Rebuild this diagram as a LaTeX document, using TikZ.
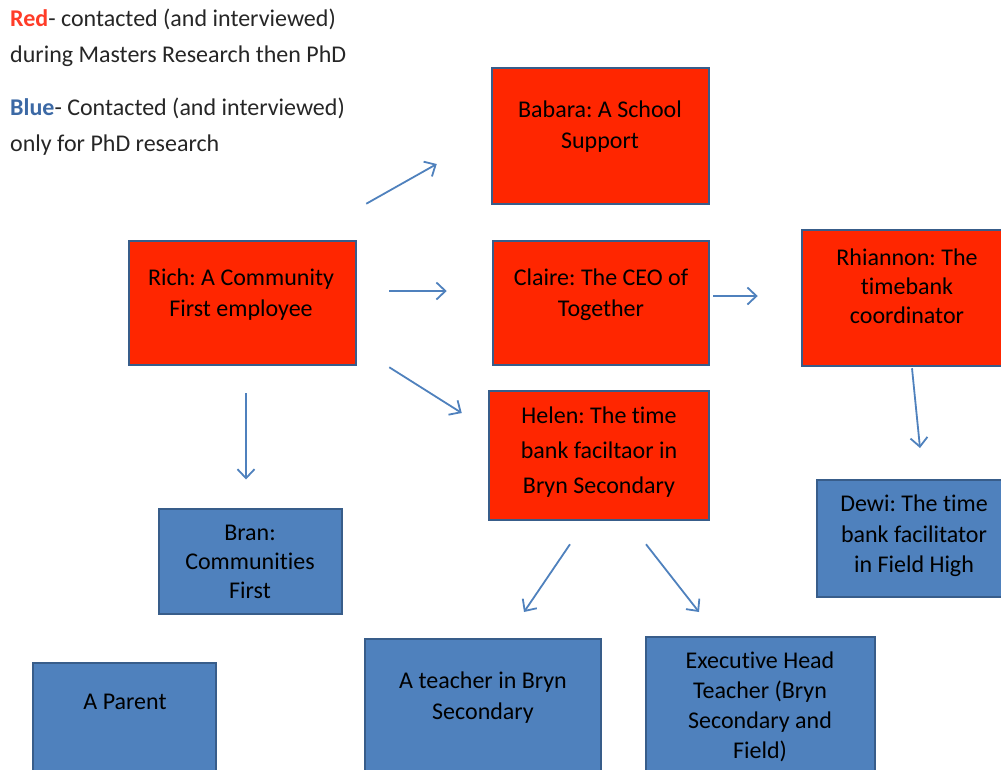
\documentclass[tikz,border=0pt]{standalone}
\usepackage{fontspec}
\setmainfont{Carlito}[Ligatures=NoCommon]
\frenchspacing
\usetikzlibrary{arrows.meta}
\definecolor{boxred}{RGB}{255,38,0}
\definecolor{boxblue}{RGB}{79,129,189}
\definecolor{boxedge}{RGB}{56,93,138}
\definecolor{arrowblue}{RGB}{79,129,189}
\definecolor{legred}{RGB}{255,60,40}
\definecolor{legblue}{RGB}{60,105,165}
\tikzset{
  redbox/.style={rectangle, fill=boxred, draw=boxedge, line width=2.5pt, inner sep=0pt},
  bluebox/.style={rectangle, fill=boxblue, draw=boxedge, line width=2pt, inner sep=0pt},
  txt/.style={align=center, text=black, inner sep=0pt, font=\fontsize{24}{31}\selectfont},
  legend/.style={align=left, anchor=west, text=black!85, inner sep=0pt, font=\fontsize{24}{36.5}\selectfont},
  arr/.style={draw=arrowblue, line width=1.8pt, -{Straight Barb[length=9pt, width=17pt, line width=1.8pt]}}
}
\begin{document}
\begin{tikzpicture}[x=1pt,y=-1pt]
\useasboundingbox (0,0) rectangle (1001,769);
\clip (0,0) rectangle (1001,769);
% legend
\node[legend] (legr) at (10,38) {{\color{legred}\textbf{Red}}- contacted (and interviewed)\\during Masters Research then PhD};
\node[legend] (legb) at (10,126.5) {{\color{legblue}\textbf{Blue}}- Contacted (and interviewed)\\only for PhD research};
% boxes
\node[redbox, minimum width=217pt, minimum height=136pt] (babara) at (600.5,136) {};
\node[redbox, minimum width=227pt, minimum height=124pt] (rich) at (242.5,303) {};
\node[redbox, minimum width=216pt, minimum height=124pt] (claire) at (601,303) {};
\node[redbox, minimum width=210pt, minimum height=136pt] (rhiannon) at (907,298) {};
\node[redbox, minimum width=220pt, minimum height=129pt] (helen) at (599,455.5) {};
\node[bluebox, minimum width=183pt, minimum height=105pt] (bran) at (250.5,561) {};
\node[bluebox, minimum width=192pt, minimum height=117pt] (dewi) at (913,538.5) {};
\node[bluebox, minimum width=183pt, minimum height=114pt] (parent) at (124.5,720) {};
\node[bluebox, minimum width=236pt, minimum height=150pt] (teacher) at (483,714) {};
\node[bluebox, minimum width=229pt, minimum height=152pt] (exec) at (760.5,713) {};
% texts
\node[txt] (babarat) at (600,127) {Babara: A School\\Support};
\node[txt] (richt) at (241,295) {Rich: A Community\\First employee};
\node[txt] (clairet) at (601,295) {Claire: The CEO of\\Together};
\node[txt, font=\fontsize{24}{29}\selectfont] (rhiannont) at (907,286) {Rhiannon: The\\timebank\\coordinator};
\node[txt, font=\fontsize{24}{35}\selectfont] (helent) at (599,452) {Helen: The time\\bank faciltaor in\\Bryn Secondary};
\node[txt, font=\fontsize{24}{29}\selectfont] (brant) at (250,562) {Bran:\\Communities\\First};
\node[txt, font=\fontsize{24}{30.5}\selectfont] (dewit) at (914,536) {Dewi: The time\\bank facilitator\\in Field High};
\node[txt] (parentt) at (125,702) {A Parent};
\node[txt] (teachert) at (483,697.5) {A teacher in Bryn\\Secondary};
\node[txt, font=\fontsize{24}{30}\selectfont] (exect) at (760,707) {Executive Head\\Teacher (Bryn\\Secondary and\\Field)};
% arrows
\draw[arr] ([shift={(9,-36)}]rich.north east) -- ([shift={(-54,28)}]babara.west);
\draw[arr] ([shift={(32,-12)}]rich.east) -- ([shift={(-45,-12)}]claire.west);
\draw[arr] ([shift={(32,1)}]rich.south east) -- ([shift={(-26,-42.5)}]helen.west);
\draw[arr] ([shift={(3.5,27)}]rich.south) -- ([shift={(-4.5,-28)}]bran.north);
\draw[arr] ([shift={(3,-7)}]claire.east) -- ([shift={(-43,-2)}]rhiannon.west);
\draw[arr] ([shift={(5,1)}]rhiannon.south) -- ([shift={(7,-31)}]dewi.north);
\draw[arr] ([shift={(-29,23)}]helen.south) -- ([shift={(41,-26)}]teacher.north);
\draw[arr] ([shift={(47,23)}]helen.south) -- ([shift={(-61.5,-24)}]exec.north);
\end{tikzpicture}
\end{document}
